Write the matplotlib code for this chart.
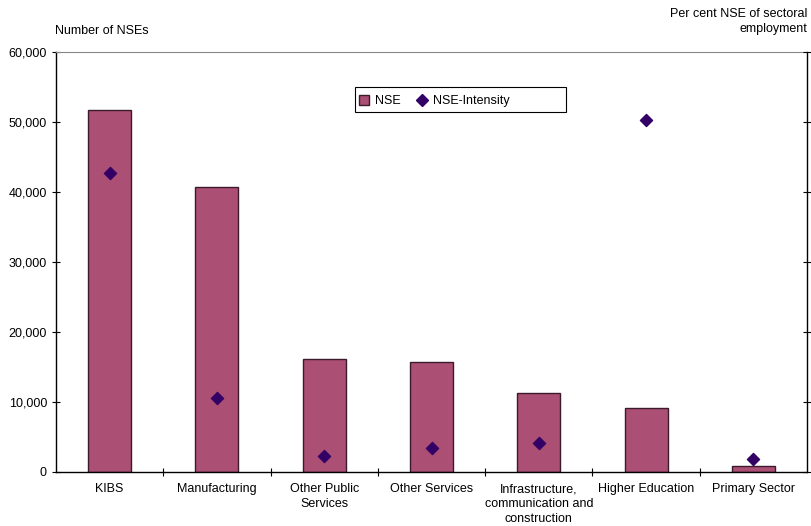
import matplotlib
matplotlib.use("Agg")
import matplotlib.pyplot as plt
from matplotlib.ticker import FuncFormatter, FixedLocator
from matplotlib.lines import Line2D
from matplotlib.patches import Rectangle
import numpy as np

plt.rcParams['font.family'] = ['Liberation Sans', 'DejaVu Sans']

sectors = ["KIBS", "Manufacturing", "Other Public\nServices", "Other Services",
           "Infrastructure,\ncommunication and\nconstruction", "Higher Education",
           "Primary Sector"]
nse_counts = [51700, 40700, 16100, 15700, 11300, 9200, 800]
nse_intensity = [4.27, 1.06, 0.23, 0.35, 0.41, 5.03, 0.19]

bar_color = "#AB4F75"
edge_color = "#3B1A2C"
marker_color = "#330066"

W, H = 811, 526
fig = plt.figure(figsize=(W / 100, H / 100), dpi=100)
ax = fig.add_axes([56 / W, (H - 472) / H, (807 - 56) / W, 420 / H])
x = np.arange(len(sectors))

ax.bar(x, nse_counts, width=0.4, color=bar_color, edgecolor=edge_color,
       linewidth=1.0, zorder=2)
ax.set_xlim(-0.5, len(sectors) - 0.5)
ax.set_ylim(0, 60000)
ax.yaxis.set_major_locator(FixedLocator(np.arange(0, 60001, 10000)))
ax.yaxis.set_major_formatter(FuncFormatter(lambda v, p: f"{int(v):,}"))
ax.set_xticks(x)
ax.set_xticklabels(sectors, fontsize=9, va="top", ha="center", linespacing=1.32)
ax.tick_params(axis="x", which="major", length=0, pad=8)
ax.set_xticks(np.arange(0.5, len(sectors) - 0.5), minor=True)
ax.tick_params(axis="x", which="minor", length=6, direction="inout", width=0.8)
ax.tick_params(axis="y", labelsize=9, direction="inout", length=6, width=0.8)

ax.spines["top"].set_color("#888888")
ax.spines["top"].set_linewidth(0.8)
ax.spines["right"].set_visible(False)
ax.spines["left"].set_linewidth(1.0)
ax.spines["bottom"].set_linewidth(1.0)

ax2 = ax.twinx()
ax2.scatter(x, nse_intensity, marker="D", s=38, color=marker_color, zorder=3)
ax2.set_ylim(0, 6)
ax2.yaxis.set_major_locator(FixedLocator(np.arange(0, 6.01, 1)))
ax2.tick_params(axis="y", direction="inout", length=6, width=0.8, labelright=False)
ax2.spines["right"].set_linewidth(1.0)
ax2.spines["top"].set_visible(False)
ax2.spines["left"].set_visible(False)
ax2.spines["bottom"].set_visible(False)

fig.text(55 / W, 1 - 31 / H, "Number of NSEs", fontsize=9, ha="left", va="center")
fig.text(807 / W, 1 - 21.5 / H, "Per cent NSE of sectoral\nemployment", fontsize=9,
         ha="right", va="center", linespacing=1.38)

# legend box with its entries laid out inside
box_x0, box_x1, box_y0, box_y1 = 355, 566, 87, 112
frame = Rectangle((box_x0 / W, 1 - box_y1 / H), (box_x1 - box_x0) / W,
                  (box_y1 - box_y0) / H, transform=fig.transFigure,
                  facecolor="white", edgecolor="black", linewidth=0.8, zorder=10)
fig.add_artist(frame)
h1 = Line2D([], [], marker="s", linestyle="none", markersize=7,
            markerfacecolor=bar_color, markeredgecolor=edge_color)
h2 = Line2D([], [], marker="D", linestyle="none", markersize=6,
            markerfacecolor=marker_color, markeredgecolor=marker_color)
leg = fig.legend([h1, h2], ["NSE", "NSE-Intensity"], ncol=2, fontsize=9,
                 loc="center left", bbox_to_anchor=(350 / W, 1 - 101 / H),
                 frameon=False, handlelength=0.8, handletextpad=0.5,
                 columnspacing=1.3, borderpad=0.2)
leg.set_zorder(11)

fig.savefig("out.png", dpi=100)
